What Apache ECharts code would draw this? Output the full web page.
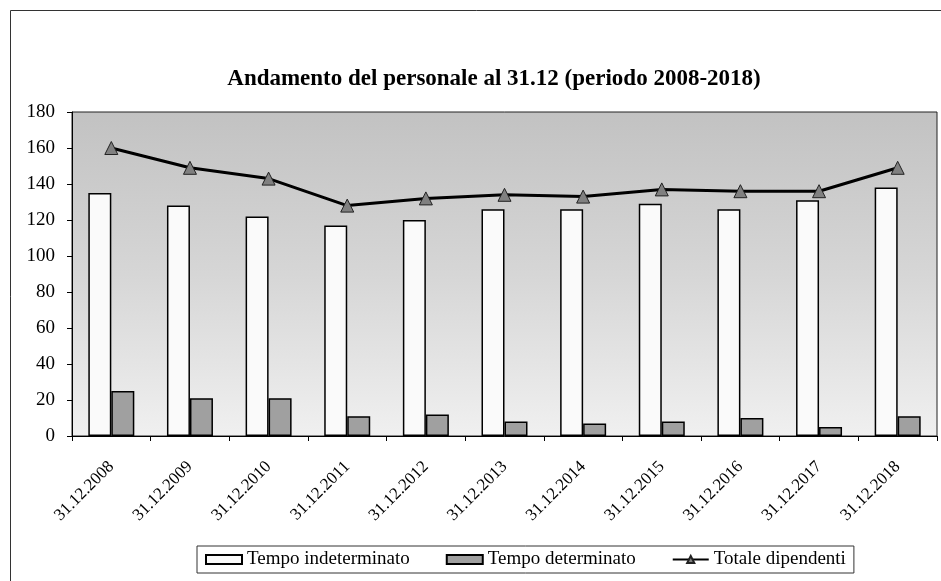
<!DOCTYPE html>
<html>
<head>
<meta charset="utf-8">
<script src="https://cdn.jsdelivr.net/npm/echarts@6/dist/echarts.min.js"></script>
<style>html,body{margin:0;padding:0;background:#fff}#c{width:941px;height:581px}</style>
</head>
<body>
<div id="c"></div>
<script>
const categories = ['31.12.2008','31.12.2009','31.12.2010','31.12.2011','31.12.2012','31.12.2013','31.12.2014','31.12.2015','31.12.2016','31.12.2017','31.12.2018'];
const tempoIndeterminato = [135, 128, 122, 117, 120, 126, 126, 129, 126, 131, 138];
const tempoDeterminato = [25, 21, 21, 11, 12, 8, 7, 8, 10, 5, 11];
const totaleDipendenti = [160, 149, 143, 128, 132, 134, 133, 137, 136, 136, 149];
const yTicks = [0, 20, 40, 60, 80, 100, 120, 140, 160, 180];

const FONT = '"Liberation Serif", "DejaVu Serif", serif';
const chart = echarts.init(document.getElementById('c'), null, {renderer: 'canvas'});
chart.setOption({
  animation: false,
  backgroundColor: '#fff',
  textStyle: {fontFamily: FONT, color: '#000'},
  title: {
    text: 'Andamento del personale al 31.12 (periodo 2008-2018)',
    left: 489, top: 63, textAlign: 'center',
    textStyle: {fontFamily: FONT, fontSize: 23, fontWeight: 'bold', color: '#000'}
  },
  graphic: [{
    type: 'rect', shape: {x: 10.5, y: 10.5, width: 940, height: 580},
    style: {fill: 'none', stroke: '#333', lineWidth: 1}, silent: true, z: -1
  }],
  legend: {
    left: 197, top: 546,
    padding: [4, 8], itemGap: 36, itemWidth: 36, itemHeight: 9,
    borderColor: '#333', borderWidth: 1,
    textStyle: {fontFamily: FONT, fontSize: 19, color: '#000'},
    data: [
      {name: 'Tempo indeterminato', icon: 'rect'},
      {name: 'Tempo determinato', icon: 'rect'},
      {name: 'Totale dipendenti'}
    ]
  },
  grid: {
    left: 72, right: 4, top: 112, bottom: 145,
    show: true,
    backgroundColor: {type: 'linear', x: 0, y: 0, x2: 0, y2: 1, colorStops: [
      {offset: 0, color: '#c2c2c2'}, {offset: 0.5, color: '#d6d6d6'}, {offset: 1, color: '#f0f0f0'}]},
    borderColor: '#222', borderWidth: 1
  },
  xAxis: {
    type: 'category', data: categories, boundaryGap: true,
    axisLine: {lineStyle: {color: '#000', width: 1}},
    axisTick: {show: true, length: 5, lineStyle: {color: '#000'}},
    axisLabel: {rotate: 45, fontSize: 17, color: '#000', fontFamily: FONT, margin: 28}
  },
  yAxis: {
    type: 'value', min: 0, max: 180, interval: 20,
    axisLine: {show: true, lineStyle: {color: '#000', width: 1}},
    axisTick: {show: true, length: 5, lineStyle: {color: '#000'}},
    splitLine: {show: false},
    axisLabel: {fontSize: 19, color: '#000', fontFamily: FONT, margin: 17,
      formatter: v => yTicks.includes(v) ? String(v) : ''}
  },
  series: [
    {
      name: 'Tempo indeterminato', type: 'bar', data: tempoIndeterminato,
      barWidth: 23, barGap: '0%',
      itemStyle: {color: '#fafafa', borderColor: '#000', borderWidth: 1.5}
    },
    {
      name: 'Tempo determinato', type: 'bar', data: tempoDeterminato,
      barWidth: 23,
      itemStyle: {color: '#a0a0a0', borderColor: '#000', borderWidth: 1.5}
    },
    {
      name: 'Totale dipendenti', type: 'line', data: totaleDipendenti,
      symbol: 'triangle', symbolSize: 13,
      lineStyle: {color: '#000', width: 3},
      itemStyle: {color: '#808080', borderColor: '#222', borderWidth: 1}
    }
  ]
});
</script>
</body>
</html>
